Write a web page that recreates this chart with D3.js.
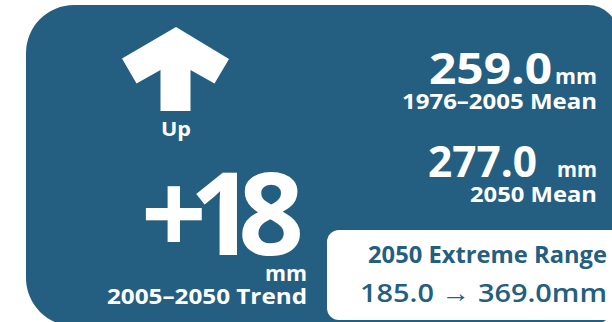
<!DOCTYPE html>
<html>
<head>
<meta charset="utf-8">
<script src="https://cdn.jsdelivr.net/npm/d3@7"></script>
<style>
  body { margin: 0; background: #fff; }
  text { font-family: "Open Sans", "Noto Sans", sans-serif; font-weight: 700; }
</style>
</head>
<body>
<div id="card"></div>
<script>
const Width = 612;
const Height = 322;
const CardColor = "#245f81";

const direction = ["Up"];
const trendValue = [18];
const trendLabel = ["2005–2050 Trend"];
const meanValues = [259.0, 277.0];
const meanLabels = ["1976–2005 Mean", "2050 Mean"];
const rangeTitle = ["2050 Extreme Range"];
const rangeValues = [185.0, 369.0];
const unit = "mm";

const fmt1 = d3.format(".1f");
const fmtSigned = d3.format("+d");

const svg = d3.select("#card").append("svg").attr("width", Width).attr("height", Height);

// card background, left corners rounder than the right (cropped) ones
function cardPath(x0, y0, x1, y1, rl, rr) {
  const p = d3.path();
  p.moveTo(x0 + rl, y0);
  p.lineTo(x1 - rr, y0);
  p.arcTo(x1, y0, x1, y0 + rr, rr);
  p.lineTo(x1, y1 - rr);
  p.arcTo(x1, y1, x1 - rr, y1, rr);
  p.lineTo(x0 + rl, y1);
  p.arcTo(x0, y1, x0, y1 - rl, rl);
  p.lineTo(x0, y0 + rl);
  p.arcTo(x0, y0, x0 + rl, y0, rl);
  p.closePath();
  return p.toString();
}
svg.append("path").attr("d", cardPath(26, 5, 618, 326, 48, 30)).attr("fill", CardColor);

// arrow
const arrow = [[176,27],[229,59],[214.5,83.5],[190.5,70],[190.5,111],[160.5,111],[160.5,70],[136.5,83.5],[122,58.5]];
svg.append("polygon").attr("points", arrow.map(p => p.join(",")).join(" ")).attr("fill", "white");

function label(g, txt, x, y, size, len, opts = {}) {
  const t = g.append("text")
    .attr("x", x).attr("y", y)
    .attr("text-anchor", opts.anchor || "end")
    .attr("font-size", size)
    .attr("fill", opts.fill || "white")
    .text(txt);
  if (len) t.attr("textLength", len).attr("lengthAdjust", opts.adjust || "spacingAndGlyphs");
  if (opts.weight) t.style("font-weight", opts.weight);
  return t;
}

const left = svg.append("g");
label(left, direction[0], 176, 136, 20, 30, {anchor: "middle"});
label(left, fmtSigned(trendValue[0]), 304, 255, 115, 163, {adjust: "spacing"});
label(left, unit, 307, 281, 21, 42);
label(left, trendLabel[0], 307, 304, 22, 200);

// mean stack
const right = svg.append("g");
const bigEnd = [552, 537];
const bigLen = [123, 109];
const rowY = [83.5, 176.5];
const subLen = [195, 127];
meanValues.forEach((v, i) => {
  label(right, fmt1(v), bigEnd[i], rowY[i], 43, bigLen[i]);
  label(right, unit, 597, rowY[i], 21, i === 0 ? 42 : 40);
  label(right, meanLabels[i], 597, rowY[i] + 25.5, 21, subLen[i]);
});

// extreme range box
const box = svg.append("g");
box.append("rect").attr("x", 327).attr("y", 230).attr("width", 300).attr("height", 90).attr("rx", 12).attr("fill", "white");
label(box, rangeTitle[0], 607, 262.5, 23, 239, {fill: CardColor});
label(box, fmt1(rangeValues[0]) + " → " + fmt1(rangeValues[1]) + unit, 607, 301.5, 26, 247, {fill: CardColor, weight: 600});
</script>
</body>
</html>
